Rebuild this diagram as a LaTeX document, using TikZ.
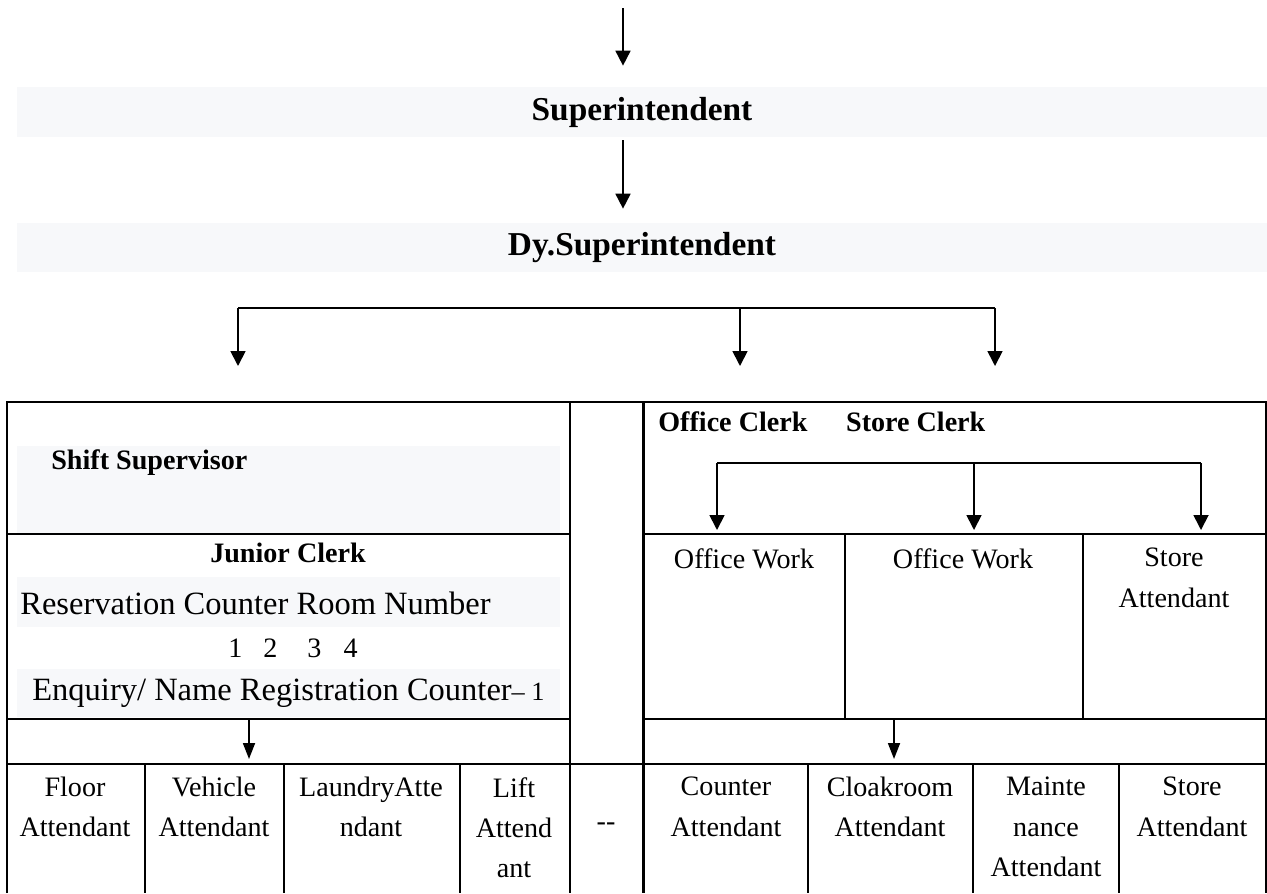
\documentclass[tikz,border=0pt]{standalone}
\usepackage{fontspec}
\setmainfont{Liberation Serif}
\usepackage{xcolor}
\usepackage{tikz}
\usetikzlibrary{positioning}
\usetikzlibrary{arrows.meta}
\definecolor{bandgray}{RGB}{247,248,250}
\tikzset{edge/.style = {-{Triangle[width=0.3cm,length=0.3cm]}, line width=1pt}}

\begin{document}
\begin{tikzpicture}[x=0.02cm,y=-0.02cm,inner sep=0pt,
    band/.style={fill=bandgray},
    head node/.style={font=\fontsize{19}{23}\selectfont\bfseries},
    sub node/.style={font=\fontsize{16}{20}\selectfont\bfseries},
    res node/.style={font=\fontsize{18.5}{22}\selectfont},
    cell node/.style={font=\fontsize{16}{22.8}\selectfont,align=center,anchor=north},
    grid/.style={line width=1.15pt},thin grid/.style={line width=0.7pt}]
    \useasboundingbox (0,0) rectangle (1267,893);

    % heads
    \node[band,head node,minimum width=25cm,minimum height=1cm] (sup) at (642,112) {Superintendent};
    \node[band,head node,minimum width=25cm,minimum height=0.98cm] (dy) at (642,247.5) {Dy.Superintendent};

    \coordinate (top) at (623,8);
    \draw[edge,shorten >=0.42cm] (top) -- (top |- sup.north);
    \draw[edge,shorten <=0.06cm,shorten >=0.28cm] (sup.south -| top) -- (dy.north -| top);

    \coordinate (busL) at (238,308);
    \coordinate (busM) at (740,308);
    \coordinate (busR) at (995,308);
    \draw[line width=0.9pt] (busL) -- (busR);
    \foreach \c in {busL,busM,busR}
        \draw[edge] (\c) -- ++(0,58);

    % left column
    \node[band,minimum width=10.86cm,minimum height=1.74cm] (shiftband) at (288.5,489.5) {};
    \node[band,minimum width=10.86cm,minimum height=1cm] (resband) at (288.5,602) {};
    \node[sub node,anchor=west] (shift) at (51,463) {Shift Supervisor};
    \node[sub node] (junior) at (288,553) {Junior Clerk};
    \node[res node,anchor=west] (reserv) at (20,603) {Reservation Counter Room Number};
    \node[cell node,anchor=center] (rooms) at (293,648) {1\hskip.42cm 2\hskip.6cm 3\hskip.44cm 4};
    \node[band,res node,minimum width=10.86cm,minimum height=0.96cm] (enq) at (288.5,693)
        {Enquiry/ Name Registration Counter{\fontsize{15}{18}\selectfont –~1}};

    % right column
    \node[sub node,anchor=west] (offclerk) at (658,422) {Office Clerk};
    \node[sub node,right=0.76cm of offclerk] (storeclerk) {Store Clerk};
    \coordinate (brL) at (717,463);
    \coordinate (brM) at (974,463);
    \coordinate (brR) at (1201,463);
    \draw[line width=0.9pt] (brL) -- (brR);
    \foreach \c in {brL,brM,brR}
        \draw[edge] (\c) -- ++(0,67);
    \node[cell node] (work1) at (744,548) {Office Work};
    \node[cell node] (work2) at (963,548) {Office Work};
    \node[cell node] (storeatt) at (1174,548) {Store\\Attendant};

    % table
    \draw[grid] (7,893) -- (7,402) -- (1266,402) -- (1266,893);
    \draw[grid] (570,402) -- (570,893);
    \draw[grid] (643.5,402) -- (643.5,893);
    \draw[grid] (7,534) -- (570,534);
    \draw[grid] (643.5,534) -- (1266,534);
    \draw[grid] (7,719) -- (570,719);
    \draw[grid] (643.5,719) -- (1266,719);
    \draw[grid] (7,764) -- (1266,764);
    \foreach \x in {145,284,460,808,973,1119}
        \draw[grid] (\x,764) -- (\x,893);
    \foreach \x in {845,1083}
        \draw[thin grid] (\x,534) -- (\x,719);

    \coordinate (downL) at (249,719);
    \coordinate (downR) at (894,719);
    \draw[edge,-{Triangle[width=0.24cm,length=0.32cm]}] (downL) -- ++(0,40);
    \draw[edge,-{Triangle[width=0.24cm,length=0.32cm]}] (downR) -- ++(0,40);

    % bottom row
    \node[cell node] (floor) at (75,777) {Floor\\Attendant};
    \node[cell node] (vehicle) at (214,777) {Vehicle\\Attendant};
    \node[cell node] (laundry) at (371,777) {LaundryAtte\\ndant};
    \node[cell node] (lift) at (514,777) {Lift\\Attend\\ant};
    \node[cell node,anchor=center] (dash) at (606,827) {-{}-};
    \node[cell node] (counter) at (726,777) {Counter\\Attendant};
    \node[cell node] (cloak) at (890,777) {Cloakroom\\Attendant};
    \node[cell node] (maint) at (1046,777) {Mainte\\nance\\Attendant};
    \node[cell node] (store) at (1192,777) {Store\\Attendant};
\end{tikzpicture}
\end{document}
